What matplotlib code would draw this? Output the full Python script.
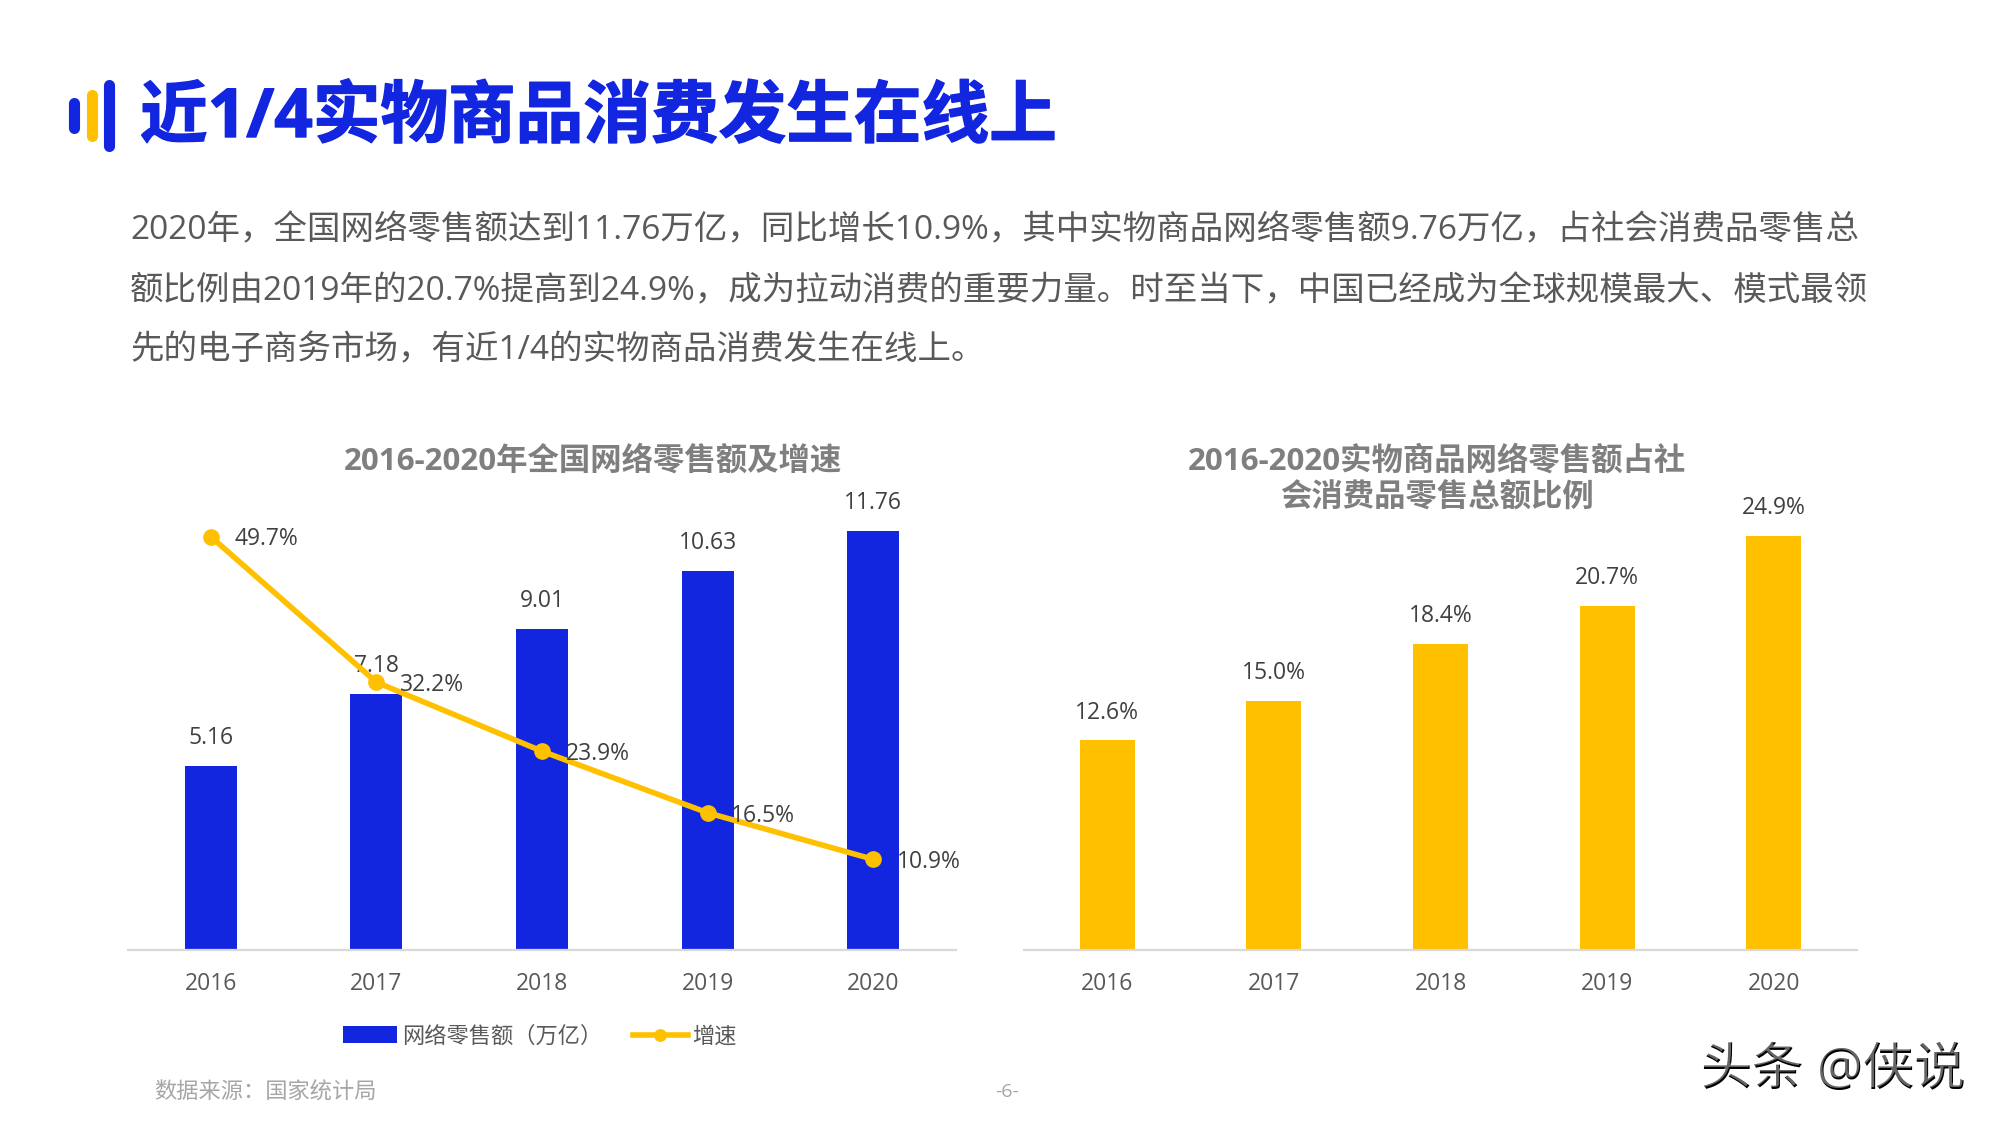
import matplotlib as mpl
import matplotlib.pyplot as plt
import matplotlib.patheffects as pe
from matplotlib.lines import Line2D

mpl.rcParams.update({"font.family": ["Open Sans", "Noto Sans CJK SC"], "font.size": 16})

years = ["2016", "2017", "2018", "2019", "2020"]
retail_sales = [5.16, 7.18, 9.01, 10.63, 11.76]
growth = [49.7, 32.2, 23.9, 16.5, 10.9]
goods_share = [12.6, 15.0, 18.4, 20.7, 24.9]

title = "近1/4实物商品消费发生在线上"
# \uff0c is the full-width comma used in the source slide
body_lines = [
    "2020年\uff0c全国网络零售额达到11.76万亿\uff0c同比增长10.9%\uff0c其中实物商品网络零售额9.76万亿\uff0c占社会消费品零售总",
    "额比例由2019年的20.7%提高到24.9%\uff0c成为拉动消费的重要力量。时至当下\uff0c中国已经成为全球规模最大、模式最领",
    "先的电子商务市场\uff0c有近1/4的实物商品消费发生在线上。",
]
left_title = "2016-2020年全国网络零售额及增速"
right_title = "2016-2020实物商品网络零售额占社\n会消费品零售总额比例"
legend_labels = ["网络零售额\uff08万亿\uff09", "增速"]
source = "数据来源\uff1a国家统计局"
page_no = "-6-"
watermark = "头条 @侠说"

BLUE = "#1226E0"
YELLOW = "#FFC000"
W, H = 2000, 1125


def fx(x):
    return x / W


def fy(y):
    return 1 - y / H


def make_axes(fig, x0, x1, y0, y1):
    ax = fig.add_axes([fx(x0), fy(y1), (x1 - x0) / W, (y1 - y0) / H])
    ax.patch.set_alpha(0)
    for side in ("top", "left", "right"):
        ax.spines[side].set_visible(False)
    ax.spines["bottom"].set_color("#D9D9D9")
    ax.spines["bottom"].set_linewidth(1.6)
    ax.set_xlim(-0.5, 4.5)
    ax.set_yticks([])
    ax.tick_params(axis="x", length=0, pad=16, labelsize=16.5, labelcolor="#595959")
    return ax


fig = plt.figure(figsize=(20, 11.25), dpi=100)

# title icon
for x, y0, y1, color in ((73.5, 102.5, 127.5, BLUE), (92, 94.5, 135.5, YELLOW), (108.5, 84.5, 145.5, BLUE)):
    fig.add_artist(Line2D([fx(x), fx(x)], [fy(y0), fy(y1)], color=color, lw=8, solid_capstyle="round"))

fig.text(fx(140), fy(119), title, color=BLUE, fontsize=48.7, fontweight="bold", va="center",
         path_effects=[pe.withStroke(linewidth=1, foreground=BLUE)])
for text, y in zip(body_lines, (231, 292, 351)):
    fig.text(fx(130), fy(y), text, color="#595959", fontsize=24.08, va="center")

# left chart
ax1 = make_axes(fig, 128, 956, 451, 950)
ax1.set_ylim(0, 14)
bars = ax1.bar(years, retail_sales, width=0.315, color=BLUE, label=legend_labels[0])
for i, v in enumerate(retail_sales):
    ax1.annotate(f"{v:.2f}", (i, v), xytext=(0, 20), textcoords="offset points",
                 ha="center", va="center", fontsize=16.5, color="#404040")

ax2 = ax1.twinx()
ax2.set_ylim(0, 60)
ax2.set_yticks([])
for side in ("top", "left", "right", "bottom"):
    ax2.spines[side].set_visible(False)
line, = ax2.plot(years, growth, color=YELLOW, lw=4, marker="o", ms=11, label=legend_labels[1])
for i, v in enumerate(growth):
    ax2.annotate(f"{v}%", (i, v), xytext=(17, -2), textcoords="offset points",
                 ha="left", va="center", fontsize=16.5, color="#404040")

# right chart
ax3 = make_axes(fig, 1024, 1857, 451, 950)
ax3.set_ylim(0, 30)
ax3.bar(years, goods_share, width=0.33, color=YELLOW)
for i, v in enumerate(goods_share):
    ax3.annotate(f"{v}%", (i, v), xytext=(0, 20), textcoords="offset points",
                 ha="center", va="center", fontsize=16.5, color="#404040")

fig.text(fx(593), fy(461), left_title, color="#7F7F7F", fontsize=22.6, fontweight="bold",
         ha="center", va="center")
fig.text(fx(1437), fy(480), right_title, color="#7F7F7F", fontsize=22.6, fontweight="bold",
         ha="center", va="center", linespacing=1.27)

fig.legend(handles=[bars, line], labels=legend_labels, loc="center left",
           bbox_to_anchor=(fx(343), fy(1037)), ncol=2, frameon=False, fontsize=16,
           labelcolor="#595959", handlelength=2.45, handleheight=0.8, handletextpad=0.2,
           columnspacing=1.4, borderpad=0, borderaxespad=0, markerscale=0.75)

fig.text(fx(154), fy(1093), source, color="#A6A6A6", fontsize=16, va="center")
fig.text(fx(1007), fy(1092), page_no, color="#A6A6A6", fontsize=14, ha="center", va="center")

# watermark with a white offset copy on top for the embossed look
fig.text(fx(1701), fy(1071), watermark, color="black", fontsize=37, va="center")
fig.text(fx(1700), fy(1070), watermark, color="white", fontsize=37, va="center", alpha=0.4)

fig.savefig("out.png", dpi=100)
